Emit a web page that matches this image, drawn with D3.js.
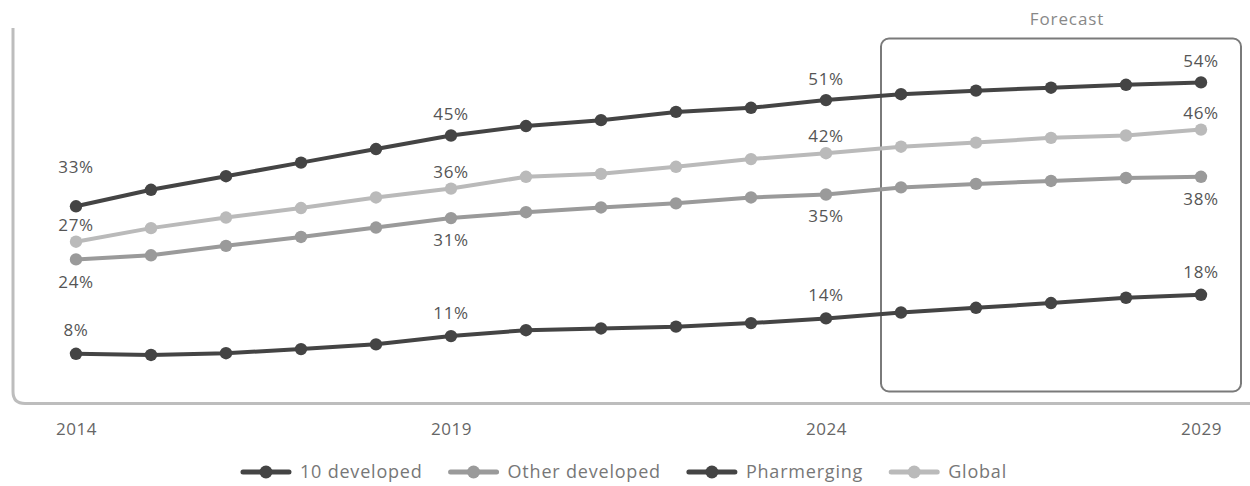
<!DOCTYPE html>
<html>
<head>
<meta charset="utf-8">
<script src="https://cdn.jsdelivr.net/npm/d3@7"></script>
<style>
  html, body { margin: 0; padding: 0; background: #fff; }
  svg { display: block; font-family: "Open Sans", "Noto Sans", sans-serif; }
</style>
</head>
<body>
<svg id="chart" width="1250" height="486"></svg>
<script>
// Market share by region group, percent of global sales, 2014–2029
const years = d3.range(2014, 2030);
const seriesNames = ["10 developed", "Other developed", "Pharmerging", "Global"];
const tenDeveloped   = [33, 35.8, 38.1, 40.4, 42.7, 45, 46.6, 47.6, 49.0, 49.7, 51, 52.0, 52.6, 53.1, 53.6, 54];
const otherDeveloped = [24, 24.7, 26.3, 27.8, 29.4, 31, 32.0, 32.8, 33.5, 34.5, 35, 36.2, 36.8, 37.3, 37.8, 38];
const pharmerging    = [8, 7.8, 8.1, 8.8, 9.6, 11, 12.0, 12.3, 12.6, 13.2, 14, 15.0, 15.8, 16.6, 17.5, 18];
const global         = [27, 29.3, 31.1, 32.7, 34.5, 36, 38.0, 38.5, 39.7, 41.0, 42, 43.1, 43.8, 44.6, 45.0, 46];
const tickYears = [2014, 2019, 2024, 2029];
const labelYears = [2014, 2019, 2024, 2029];
const forecastStart = 2025, forecastEnd = 2029;

const svg = d3.select("#chart");
const x = d3.scaleLinear().domain([2014, 2029]).range([76, 1201]);
const y = d3.scaleLinear().domain([0, 60]).range([401, 47]);

const series = [
  { name: seriesNames[0], values: tenDeveloped,   color: "#444444", labelDy: -21, firstDy: -39 },
  { name: seriesNames[1], values: otherDeveloped, color: "#9a9a9a", labelDy: 22,  firstDy: 23 },
  { name: seriesNames[2], values: pharmerging,    color: "#444444", labelDy: -23, firstDy: -24 },
  { name: seriesNames[3], values: global,         color: "#bababa", labelDy: -17, firstDy: -17 }
];

// Frame: left rule turning into the baseline with a rounded corner
const baseY = 403.5, leftX = 13, r = 12;
svg.append("path")
  .attr("d", `M${leftX},28 V${baseY - r} Q${leftX},${baseY} ${leftX + r},${baseY} H1250`)
  .attr("fill", "none").attr("stroke", "#bdbdbd").attr("stroke-width", 3);

// Year ticks
const xAxis = svg.append("g")
  .attr("transform", `translate(0,${baseY})`)
  .call(d3.axisBottom(x).tickValues(tickYears).tickFormat(d3.format("d")).tickSize(0).tickPadding(19));
xAxis.select(".domain").remove();
xAxis.selectAll("text").attr("fill", "#666")
  .style("font-size", "17px").style("letter-spacing", "0.5px")
  .style("font-family", "'Open Sans', sans-serif");

// Forecast box
const boxL = x(forecastStart) - 20, boxR = x(forecastEnd) + 40;
svg.append("rect")
  .attr("x", boxL).attr("y", 38.5)
  .attr("width", boxR - boxL).attr("height", 391.5 - 38.5)
  .attr("rx", 8).attr("ry", 8)
  .attr("fill", "none").attr("stroke", "#7a7a7a").attr("stroke-width", 2);
svg.append("text")
  .attr("x", (boxL + boxR) / 2 + 6).attr("y", 25)
  .attr("text-anchor", "middle").attr("fill", "#888")
  .style("font-size", "17px").style("letter-spacing", "0.9px").text("Forecast");

// Lines and markers
const line = d3.line().x((d, i) => x(years[i])).y(d => y(d));
const drawOrder = [series[3], series[1], series[2], series[0]];
drawOrder.forEach(s => {
  const g = svg.append("g");
  g.append("path").datum(s.values)
    .attr("d", line).attr("fill", "none")
    .attr("stroke", s.color).attr("stroke-width", 4).attr("stroke-linejoin", "round");
  g.selectAll("circle").data(s.values).join("circle")
    .attr("cx", (d, i) => x(years[i])).attr("cy", d => y(d))
    .attr("r", 6.2).attr("fill", s.color);
});

// Value labels
series.forEach(s => {
  labelYears.forEach((yr, k) => {
    const v = s.values[years.indexOf(yr)];
    const dy = k === 0 ? s.firstDy : s.labelDy;
    svg.append("text")
      .attr("x", x(yr)).attr("y", y(v) + dy)
      .attr("dy", "0.35em").attr("text-anchor", "middle")
      .attr("fill", "#555").style("font-size", "17px").style("letter-spacing", "0.6px")
      .text(`${Math.round(v)}%`);
  });
});

// Legend
const legend = svg.append("g");
const sampleW = 46, textGap = 11, itemGap = 28;
let lx = 0;
series.forEach(s => {
  const g = legend.append("g");
  g.append("line").attr("x1", 0).attr("x2", sampleW).attr("y1", 0).attr("y2", 0)
    .attr("stroke", s.color).attr("stroke-width", 5).attr("stroke-linecap", "round");
  g.append("circle").attr("cx", sampleW / 2).attr("cy", 0).attr("r", 6.5).attr("fill", s.color);
  const t = g.append("text").attr("x", sampleW + textGap).attr("dy", "0.35em")
    .attr("fill", "#777").style("font-size", "18px").style("letter-spacing", "0.8px").text(s.name);
  const w = sampleW + textGap + t.node().getComputedTextLength();
  g.attr("transform", `translate(${lx},0)`);
  lx += w + itemGap;
});
const legendWidth = lx - itemGap;
legend.attr("transform", `translate(${(1250 - legendWidth) / 2},472)`);
</script>
</body>
</html>
